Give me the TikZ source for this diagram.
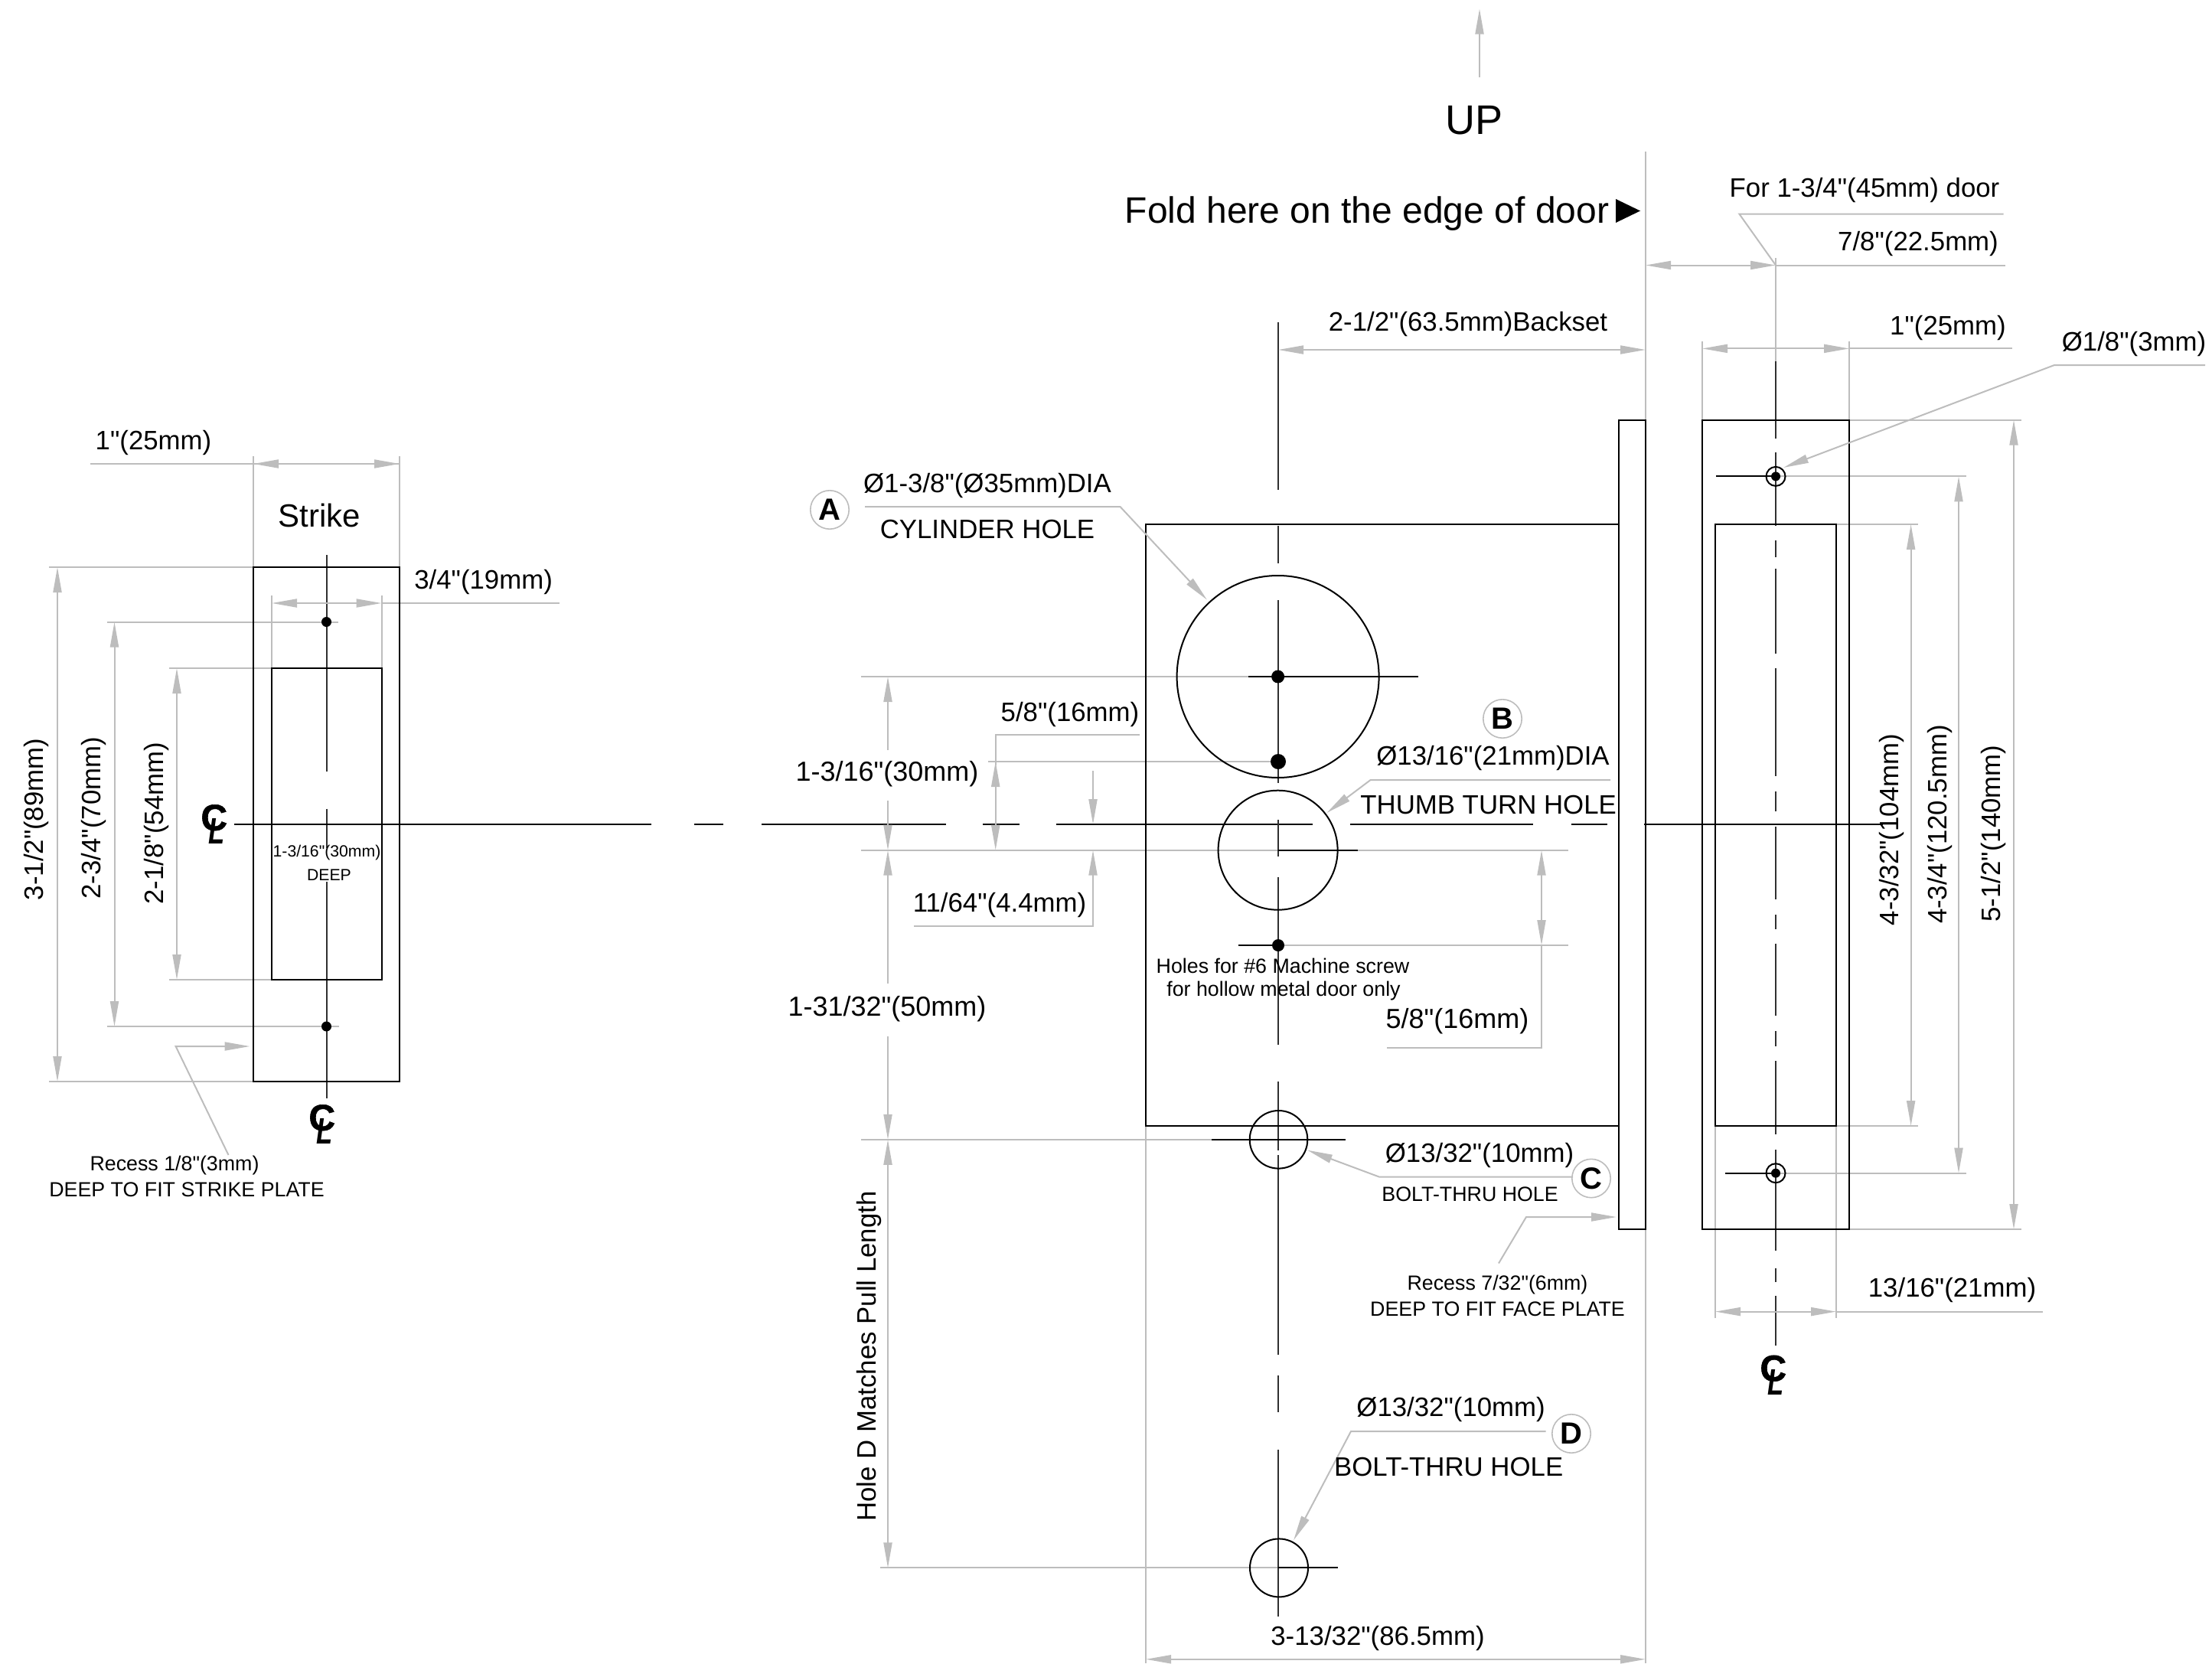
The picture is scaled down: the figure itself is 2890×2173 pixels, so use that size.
\documentclass[tikz,border=0pt]{standalone}
\usepackage{graphicx}
\usepackage{fontspec}
\setmainfont{Liberation Sans}[Ligatures=TeXOff]
\newfontfamily\clfont{Liberation Sans}[BoldFeatures={FakeBold=1.2}]
\usetikzlibrary{arrows.meta}
\definecolor{dimgrey}{HTML}{BDBDBD}
\definecolor{cldark}{HTML}{303030}
\newcommand{\clsym}{\clfont\fontsize{12}{12}\selectfont\bfseries\rlap{\raisebox{2.25pt}{C}}\hspace{2.5pt}\raisebox{-2.25pt}{\scalebox{0.72}[1]{\itshape L}}}
\tikzset{
  part/.style={draw=black,line width=0.5pt},
  cline/.style={draw=cldark,line width=0.5pt},
  dimline/.style={draw=dimgrey,line width=0.5pt},
  dimarrow/.style={dimline,{Triangle[length=8.25pt,width=2.75pt]}-{Triangle[length=8.25pt,width=2.75pt]}},
  leaderarrow/.style={dimline,-{Triangle[length=8.25pt,width=2.75pt]}},
  lblbase/.style={inner sep=0pt,font=\fontsize{8.7}{8.7}\selectfont},
  lbl/.style={lblbase,yshift=-0.2pt},
  lblwide/.style={lbl,font=\fontsize{9}{9}\selectfont},
  lblv/.style={lblbase,rotate=90,xshift=0.5pt},
  small/.style={inner sep=0pt,font=\fontsize{6.7}{6.7}\selectfont},
  tiny/.style={inner sep=0pt,font=\fontsize{5.3}{5.3}\selectfont},
  large/.style={inner sep=0pt,font=\fontsize{12}{12}\selectfont},
  letter/.style={circle,draw=dimgrey,line width=0.4pt,minimum size=12.6pt,inner sep=0pt,font=\fontsize{10}{10}\selectfont\bfseries},
  clmark/.style={inner sep=0pt},
  dot/.style={fill=black,draw=none}
}
\begin{document}
\begin{tikzpicture}[x=0.25pt,y=-0.25pt]
\useasboundingbox (0,0) rectangle (2890,2173);

% ---------- grey extension lines: strike ----------
\draw[dimline] (118,606) -- (522,606);
\draw[dimline] (331,596) -- (331,741) (522,596) -- (522,741);
\draw[dimline] (355,778) -- (355,873) (498.5,778) -- (498.5,873);
\draw[dimline] (498.5,788) -- (731,788);
\draw[dimline] (64,741) -- (331,741) (64,1413) -- (331,1413);
\draw[dimline] (140,812.5) -- (442,812.5) (140,1341) -- (443,1341);
\draw[dimline] (221,873) -- (355,873) (221,1280) -- (355,1280);

% ---------- strike ----------
\draw[cline] (426.5,725) -- (426.5,1007.5);
\draw[cline] (426.5,1056.5) -- (426.5,1108);
\draw[cline] (426.5,1152) -- (426.5,1435);
\draw[part] (331,741) rectangle (522,1413);
\draw[part] (355,873) rectangle (498.5,1280);
\fill[dot] (426.5,812.5) circle (6.5);
\fill[dot] (426.5,1341) circle (6.5);
\draw[dimarrow] (331,606) -- (522,606);
\draw[dimarrow] (355,788) -- (498.5,788);
\draw[dimarrow] (75,741) -- (75,1413);
\draw[dimarrow] (149.5,812.5) -- (149.5,1341);
\draw[dimarrow] (231,873) -- (231,1280);
\draw[leaderarrow] (298.5,1509) -- (229.6,1367) -- (326.5,1367);

% ---------- main horizontal centre line ----------
\draw[part] (306,1076.5) -- (851,1076.5) (907,1076.5) -- (945,1076.5) (995,1076.5) -- (1236,1076.5)
  (1284,1076.5) -- (1332,1076.5) (1380,1076.5) -- (1715,1076.5) (1764,1076.5) -- (2003,1076.5)
  (2052.5,1076.5) -- (2100,1076.5) (2147.5,1076.5) -- (2460,1076.5);

% ---------- grey extension lines: door view ----------
\draw[dimline] (1124.7,884) -- (1631,884);
\draw[dimline] (1291,995) -- (1660,995);
\draw[dimline] (1124.7,1110.7) -- (2049,1110.7);
\draw[dimline] (1670,1235) -- (2049,1235);
\draw[dimline] (1125,1488.8) -- (1583,1488.8);
\draw[dimline] (1150,2048.4) -- (1670,2048.4);
\draw[dimline] (1497,1471) -- (1497,2173);
\draw[dimline] (2150,198) -- (2150,548.5) (2150,1606) -- (2150,2173);

% ---------- door view: centre line ----------
\draw[cline] (1670,421) -- (1670,640) (1670,687) -- (1670,736) (1670,784) -- (1670,1023)
  (1670,1071) -- (1670,1119) (1670,1146) -- (1670,1365) (1670,1413) -- (1670,1503)
  (1670,1509) -- (1670,1770) (1670,1797) -- (1670,1845) (1670,1894) -- (1670,2112);

% ---------- door view: body ----------
\draw[part] (1496.5,684.7) rectangle (2115,1471);
\draw[part] (2115,548.5) rectangle (2150,1606);
\draw[part] (1669.6,884) circle (132);
\draw[part] (1669.6,1110.7) circle (78);
\draw[part] (1670.5,1488.8) circle (37.8);
\draw[part] (1671,2048.4) circle (38);
\draw[part] (1631,884) -- (1853,884);
\draw[part] (1670,1110.7) -- (1774,1110.7);
\draw[part] (1617.5,1235) -- (1670,1235);
\draw[part] (1583,1488.8) -- (1758,1488.8);
\draw[part] (1670,2048.4) -- (1748,2048.4);
\fill[dot] (1669.6,884) circle (8.5);
\fill[dot] (1670,995) circle (10);
\fill[dot] (1670,1235) circle (8);

% ---------- door view: dimensions ----------
\draw[dimarrow] (1670,457) -- (2150,457);
\draw[dimarrow] (2150,346.5) -- (2320,346.5);
\draw[dimline] (2320,346.5) -- (2620,346.5);
\draw[dimline] (2320,337) -- (2320,472);
\draw[dimline] (2320,346.5) -- (2272.4,279.6) -- (2617.5,279.6);
\draw[leaderarrow] (1160,980) -- (1160,884);
\draw[leaderarrow] (1160,1046.4) -- (1160,1110.7);
\draw[leaderarrow] (1160,1284.7) -- (1160,1110.7);
\draw[leaderarrow] (1160,1354) -- (1160,1488.8);
\draw[dimarrow] (1160,1488.8) -- (1160,2048.4);
\draw[dimarrow] (1300.7,995) -- (1300.7,1110.7);
\draw[dimline] (1489,960) -- (1300.7,960) -- (1300.7,1000);
\draw[leaderarrow] (1428,1007) -- (1428,1077);
\draw[dimline] (1194,1210) -- (1428,1210) -- (1428,1150);
\draw[leaderarrow] (1428,1210) -- (1428,1110.7);
\draw[dimarrow] (2014,1110.7) -- (2014,1235);
\draw[dimline] (2014,1235) -- (2014,1369) -- (1812,1369);
\draw[dimarrow] (1497,2167.8) -- (2150,2167.8);
\draw[leaderarrow] (1130,662) -- (1463.5,662) -- (1577,783.7);
\draw[leaderarrow] (2104,1019) -- (1790.6,1019) -- (1733.4,1062);
\draw[leaderarrow] (2055,1537.6) -- (1802,1537.6) -- (1708,1502.6);
\draw[leaderarrow] (1958,1650.5) -- (1994,1590) -- (2112,1590);
\draw[leaderarrow] (2019.6,1870) -- (1765,1870) -- (1690,2012.4);
\draw[leaderarrow] (1933,101) -- (1933,11.5);
\fill[black] (2111,260) -- (2143,275.5) -- (2111,291) -- cycle;

% ---------- right plate ----------
\draw[dimline] (2416,548.7) -- (2641,548.7) (2416,1606) -- (2641,1606);
\draw[dimline] (2399,685) -- (2506,685) (2399,1471) -- (2506,1471);
\draw[dimline] (2320,622.4) -- (2569,622.4) (2320,1532.7) -- (2569,1532.7);
\draw[dimline] (2224,445.6) -- (2224,548.7) (2416,445.6) -- (2416,548.7);
\draw[dimline] (2416,455.4) -- (2629,455.4);
\draw[dimline] (2241,1471) -- (2241,1722) (2399,1471) -- (2399,1722);
\draw[dimline] (2399,1713.6) -- (2668.6,1713.6);
\draw[cline] (2320,472) -- (2320,573) (2320,591) -- (2320,687) (2320,706) -- (2320,728)
  (2320,743) -- (2320,854) (2320,873) -- (2320,1014) (2320,1034) -- (2320,1060)
  (2320,1080) -- (2320,1175) (2320,1195) -- (2320,1213.5) (2320,1232.5) -- (2320,1327)
  (2320,1347) -- (2320,1367) (2320,1386) -- (2320,1482) (2320,1502) -- (2320,1634)
  (2320,1657) -- (2320,1674.5) (2320,1693) -- (2320,1758);
\draw[part] (2224,548.7) rectangle (2416,1606);
\draw[part] (2241,685) rectangle (2399,1471);
\draw[part] (2320,622.4) circle (12.5);
\draw[part] (2320,1532.7) circle (12.5);
\fill[dot] (2320,622.4) circle (6);
\fill[dot] (2320,1532.7) circle (6);
\draw[part] (2242,622.4) -- (2320,622.4);
\draw[part] (2254,1532.7) -- (2320,1532.7);
\draw[dimarrow] (2224,455.4) -- (2416,455.4);
\draw[dimarrow] (2241,1713.6) -- (2399,1713.6);
\draw[dimarrow] (2496.6,685) -- (2496.6,1471);
\draw[dimarrow] (2559,622.4) -- (2559,1532.7);
\draw[dimarrow] (2631,548.7) -- (2631,1606);
\draw[leaderarrow] (2881,477) -- (2684,477) -- (2330,611);

% ---------- text: top ----------
\node[inner sep=0pt,font=\fontsize{13.5}{13.5}\selectfont] (up) at (1925.5,157) {UP};
\node[large,yshift=-1pt] (fold) at (1786,275.5) {Fold here on the edge of door};
\node[lbl] (backset) at (1918,423) {2-1/2"(63.5mm)Backset};
\node[lbl] (fordoor) at (2436,248) {For 1-3/4"(45mm) door};
\node[lbl] (seveneighth) at (2506,318) {7/8"(22.5mm)};
\node[lbl] (oneinR) at (2545,428) {1"(25mm)};
\node[lbl] (dia18) at (2788,449) {Ø1/8"(3mm)};

% ---------- text: strike ----------
\node[lbl] (oneinL) at (200.5,577.5) {1"(25mm)};
\node[inner sep=0pt,font=\fontsize{10.5}{10.5}\selectfont] (strike) at (417,673) {Strike};
\node[lbl] (tq) at (631.6,760) {3/4"(19mm)};
\node[lblv] (d312) at (47,1072.5) {3-1/2"(89mm)};
\node[lblv] (d234) at (122.4,1070.7) {2-3/4"(70mm)};
\node[lblv] (d218) at (204,1077.7) {2-1/8"(54mm)};
\node[tiny] (deep1) at (427,1114) {1-3/16"(30mm)};
\node[tiny] (deep2) at (430,1143) {DEEP};
\node[small] (rec1) at (228,1523) {Recess 1/8"(3mm)};
\node[small] (rec2) at (244,1554) {DEEP TO FIT STRIKE PLATE};
\node[clmark] (clL) at (278,1077) {\clsym};
\node[clmark] (clB) at (419,1469) {\clsym};
\node[clmark] (clR) at (2315,1796.5) {\clsym};

% ---------- text: door view ----------
\node[letter] (A) at (1084,666) {A};
\node[letter] (B) at (1963,939) {B};
\node[letter] (C) at (2079,1539.5) {C};
\node[letter] (D) at (2053,1873) {D};
\node[lbl] (cyl1) at (1290,634) {Ø1-3/8"(Ø35mm)DIA};
\node[lbl] (cyl2) at (1290,691) {CYLINDER HOLE};
\node[lbl] (thumb1) at (1950.5,990) {Ø13/16"(21mm)DIA};
\node[lbl] (thumb2) at (1944.6,1051) {THUMB TURN HOLE};
\node[lblwide] (d1316) at (1159,1010) {1-3/16"(30mm)};
\node[lbl] (d58L) at (1398,932.6) {5/8"(16mm)};
\node[lbl] (d1164) at (1306,1181.6) {11/64"(4.4mm)};
\node[lblwide] (d13132) at (1159,1317) {1-31/32"(50mm)};
\node[lblwide] (d58R) at (1904,1333) {5/8"(16mm)};
\node[small] (holes1) at (1676,1262) {Holes for \#6 Machine screw};
\node[small] (holes2) at (1677,1295) {for hollow metal door only};
\node[lbl] (boltC1) at (1933,1508.5) {Ø13/32"(10mm)};
\node[small] (boltC2) at (1920.6,1560) {BOLT-THRU HOLE};
\node[small] (recF1) at (1956.5,1678.6) {Recess 7/32"(6mm)};
\node[small] (recF2) at (1956.5,1710.6) {DEEP TO FIT FACE PLATE};
\node[lbl] (boltD1) at (1895.6,1841) {Ø13/32"(10mm)};
\node[lbl] (boltD2) at (1892.7,1916) {BOLT-THRU HOLE};
\node[lblv] (holeD) at (1135,1774) {Hole D Matches Pull Length};
\node[lbl] (d31332) at (1800,2139.6) {3-13/32"(86.5mm)};

% ---------- text: right plate ----------
\node[lblv] (d4332) at (2471,1086) {4-3/32"(104mm)};
\node[lblv] (d434) at (2534,1079) {4-3/4"(120.5mm)};
\node[lblv] (d512) at (2604,1091) {5-1/2"(140mm)};
\node[lbl] (d13) at (2550.5,1685) {13/16"(21mm)};
\end{tikzpicture}
\end{document}
